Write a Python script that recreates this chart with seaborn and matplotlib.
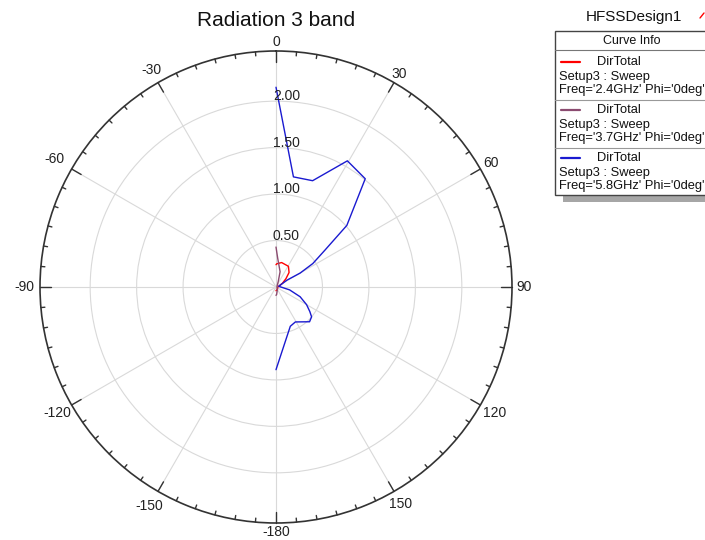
import numpy as np
import matplotlib
matplotlib.use('Agg')
import matplotlib.pyplot as plt
from matplotlib.patches import Rectangle
from matplotlib.lines import Line2D
import seaborn as sns

# 方向图数据 (theta 单位为度, 读自原图)
theta_24 = [0, 2, 13, 31, 42, 50, 60, 70, 90, 120, 150, 180]
dir_24 = [0.24, 0.25, 0.27, 0.26, 0.21, 0.14, 0.08, 0.04, 0.02, 0.02, 0.03, 0.04]

theta_37 = [0, 3.4, 15, 23, 40, 90, 150, 175, 180]
dir_37 = [0.43, 0.31, 0.17, 0.06, 0.02, 0.01, 0.03, 0.08, 0.09]

theta_58 = [0, 9, 19, 29.5, 39.5, 49, 53, 57.5, 60, 58, 75, 102, 112, 120, 126, 130, 136, 151, 160, 180]
dir_58 = [2.15, 1.20, 1.21, 1.56, 1.51, 1.01, 0.66, 0.47, 0.30, 0.14, 0.03, 0.15, 0.28, 0.38, 0.45, 0.50, 0.52, 0.43, 0.45, 0.89]

r_ticks = [0.5, 1.0, 1.5, 2.0]
r_labels = ['0.50', '1.00', '1.50', '2.00']
angle_ticks = [0, 30, 60, 90, 120, 150, -180, -150, -120, -90, -60, -30]
curve_freqs = ['2.4GHz', '3.7GHz', '5.8GHz']
curve_colors = ['#ff0000', '#8b4b70', '#1a1ad0']

W, H = 705, 540
R_MAX = 2.54
R_PX = 236
# 角度标签离圆心的像素距离
label_dist = {0: 245, 30: 246, 60: 248, 90: 248, 120: 252, 150: 250, -180: 245,
              -150: 253, -120: 253, -90: 252, -60: 256, -30: 250}


def px(x, y):
    # 像素坐标 -> figure 坐标
    return x / W, 1 - y / H


sns.set_theme(style='white')
plt.rcParams['font.family'] = ['Liberation Sans', 'DejaVu Sans']

fig = plt.figure(figsize=(W / 100, H / 100), dpi=100)
ax = fig.add_axes([(276 - R_PX) / W, (H - 287 - R_PX) / H, 2 * R_PX / W, 2 * R_PX / H],
                  projection='polar')
ax.set_theta_zero_location('N')
ax.set_theta_direction(-1)

for th, r, c in [(theta_24, dir_24, curve_colors[0]),
                 (theta_37, dir_37, curve_colors[1]),
                 (theta_58, dir_58, curve_colors[2])]:
    sns.lineplot(x=np.radians(th), y=r, ax=ax, color=c, linewidth=1.0,
                 sort=False, estimator=None)

ax.set_xlabel('')
ax.set_ylabel('')
ax.set_ylim(0, R_MAX)
ax.set_yticks(r_ticks)
ax.set_yticklabels([])
ax.set_xticks(np.radians(np.arange(0, 360, 30)))
ax.set_xticklabels([])
ax.tick_params(axis='both', length=0)
ax.grid(True, color='#d9d9d9', linewidth=0.8)
ax.spines['polar'].set_color('#333333')
ax.spines['polar'].set_linewidth(1.2)

# 外圈刻度
unit = R_MAX / R_PX
for a in range(0, 360, 5):
    L = 11 if a % 30 == 0 else 4
    ax.plot([np.radians(a)] * 2, [R_MAX, R_MAX - L * unit], color='#333333',
            linewidth=1.0, clip_on=False)

# 角度标签
for a in angle_ticks:
    ax.text(np.radians(a), label_dist[a] * unit, str(a), ha='center', va='center',
            fontsize=10, color='#222222', clip_on=False)

# 径向标签
for r, lab in zip(r_ticks, r_labels):
    ax.annotate(lab, xy=(0, r), xytext=(-3, 5), textcoords='offset pixels',
                ha='left', va='center', fontsize=10, color='#222222')

fig.text(*px(276, 21), 'Radiation 3 band', ha='center', va='center', fontsize=15,
         color='#111111')

# 图例框
fig.patches.append(Rectangle(px(563, 202), (710 - 563) / W, 6 / H, transform=fig.transFigure,
                             facecolor='#a6a6a6', edgecolor='none'))
fig.patches.append(Rectangle(px(555, 195), (710 - 555) / W, (195 - 31) / H,
                             transform=fig.transFigure, facecolor='white',
                             edgecolor='#444444', linewidth=1.0))
for y, col in [(50, '#777777'), (100, '#999999'), (148, '#999999')]:
    fig.lines.append(Line2D([555 / W, 1], [1 - y / H] * 2, transform=fig.transFigure,
                            color=col, linewidth=0.8))

fig.text(*px(634, 17), 'HFSSDesign1', ha='center', va='center', fontsize=11,
         color='#111111')
fig.lines.append(Line2D([700 / W, 704 / W], [1 - 18 / H, 1 - 13 / H],
                        transform=fig.transFigure, color='#ff0000', linewidth=1.0))
fig.text(*px(632, 41), 'Curve Info', ha='center', va='center', fontsize=9,
         color='#111111')

for i, (freq, c) in enumerate(zip(curve_freqs, curve_colors)):
    y0 = 62 + 48 * i
    fig.lines.append(Line2D([561 / W, 580 / W], [1 - y0 / H] * 2,
                            transform=fig.transFigure, color=c, linewidth=1.6))
    fig.text(*px(597, y0), 'DirTotal', ha='left', va='center', fontsize=9.3, color='#111111')
    fig.text(*px(559, y0 + 15), 'Setup3 : Sweep', ha='left', va='center', fontsize=9.3,
             color='#111111')
    fig.text(*px(559, y0 + 28), "Freq='%s' Phi='0deg'" % freq, ha='left', va='center',
             fontsize=9.3, color='#111111')

fig.savefig('out.png', dpi=100)
